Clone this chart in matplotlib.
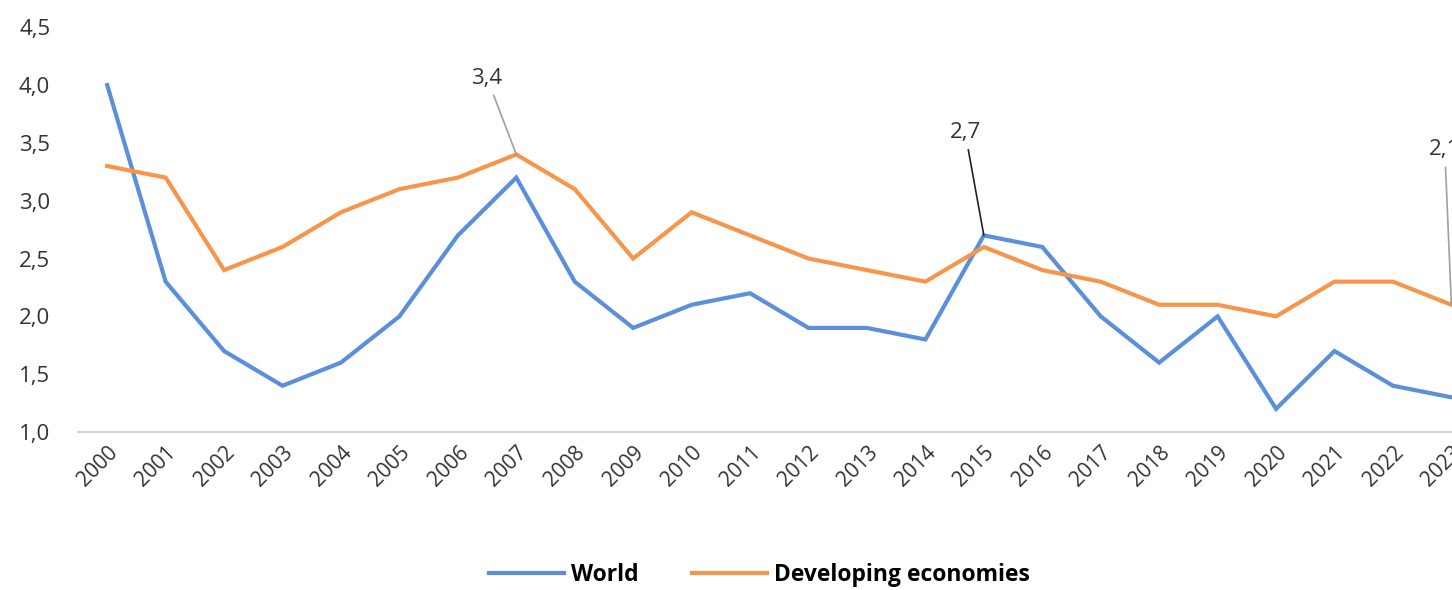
import matplotlib.pyplot as plt
from matplotlib.ticker import FuncFormatter, MultipleLocator

years = list(range(2000, 2024))
world = [4.0, 2.3, 1.7, 1.4, 1.6, 2.0, 2.7, 3.2, 2.3, 1.9, 2.1, 2.2,
         1.9, 1.9, 1.8, 2.7, 2.6, 2.0, 1.6, 2.0, 1.2, 1.7, 1.4, 1.3]
developing = [3.3, 3.2, 2.4, 2.6, 2.9, 3.1, 3.2, 3.4, 3.1, 2.5, 2.9, 2.7,
              2.5, 2.4, 2.3, 2.6, 2.4, 2.3, 2.1, 2.1, 2.0, 2.3, 2.3, 2.1]

plt.rcParams['font.family'] = ['Open Sans', 'DejaVu Sans']

fig = plt.figure(figsize=(14.52, 5.9), dpi=100)
# the right side of the original is cut off, so the axes run past the figure edge
ax = fig.add_axes([0.0537, 0.2678, 0.966, 0.686])

blue = '#5B8FD9'
orange = '#F7964A'
ax.plot(years, world, color=blue, lw=3, label='World', solid_joinstyle='miter')
ax.plot(years, developing, color=orange, lw=3, label='Developing economies',
        solid_joinstyle='miter')

ax.set_xlim(1999.5, 2023.5)
ax.set_ylim(1.0, 4.5)
ax.yaxis.set_major_locator(MultipleLocator(0.5))
ax.yaxis.set_major_formatter(FuncFormatter(lambda v, p: ('%.1f' % v).replace('.', ',')))
ax.set_xticks(years)
ax.set_xticklabels([str(y) for y in years], rotation=45, ha='right',
                   rotation_mode='anchor', fontsize=15, color='#333333')
for lab in ax.get_yticklabels():
    lab.set_fontsize(16)
    lab.set_color('#333333')

for s in ['top', 'right', 'left']:
    ax.spines[s].set_visible(False)
ax.spines['bottom'].set_color('#c8c8c8')
ax.spines['bottom'].set_linewidth(1.2)
ax.tick_params(axis='both', length=0)
ax.tick_params(axis='y', pad=20)
ax.tick_params(axis='x', pad=7)

# data labels with leader lines
ax.annotate('3,4', xy=(2007, 3.4), xytext=(2006.5, 3.97), fontsize=16,
            color='#333333', ha='center', va='bottom',
            arrowprops=dict(arrowstyle='-', color='#a0a0a0', lw=1.2, shrinkA=3, shrinkB=0))
ax.annotate('2,7', xy=(2015, 2.7), xytext=(2014.68, 3.5), fontsize=16,
            color='#333333', ha='center', va='bottom',
            arrowprops=dict(arrowstyle='-', color='#222222', lw=1.2, shrinkA=3, shrinkB=0))
ax.annotate('2,1', xy=(2023, 2.1), xytext=(2022.62, 3.35), fontsize=16,
            color='#333333', ha='left', va='bottom', annotation_clip=False,
            arrowprops=dict(arrowstyle='-', color='#a0a0a0', lw=1.2, shrinkA=3, shrinkB=0))

leg = fig.legend(loc='center', bbox_to_anchor=(0.523, 0.026), ncol=2, frameon=False,
                 prop={'size': 16.5, 'weight': 'bold'}, handlelength=3.3,
                 columnspacing=2.3, handletextpad=0.3)

fig.savefig('out.png', dpi=100)
